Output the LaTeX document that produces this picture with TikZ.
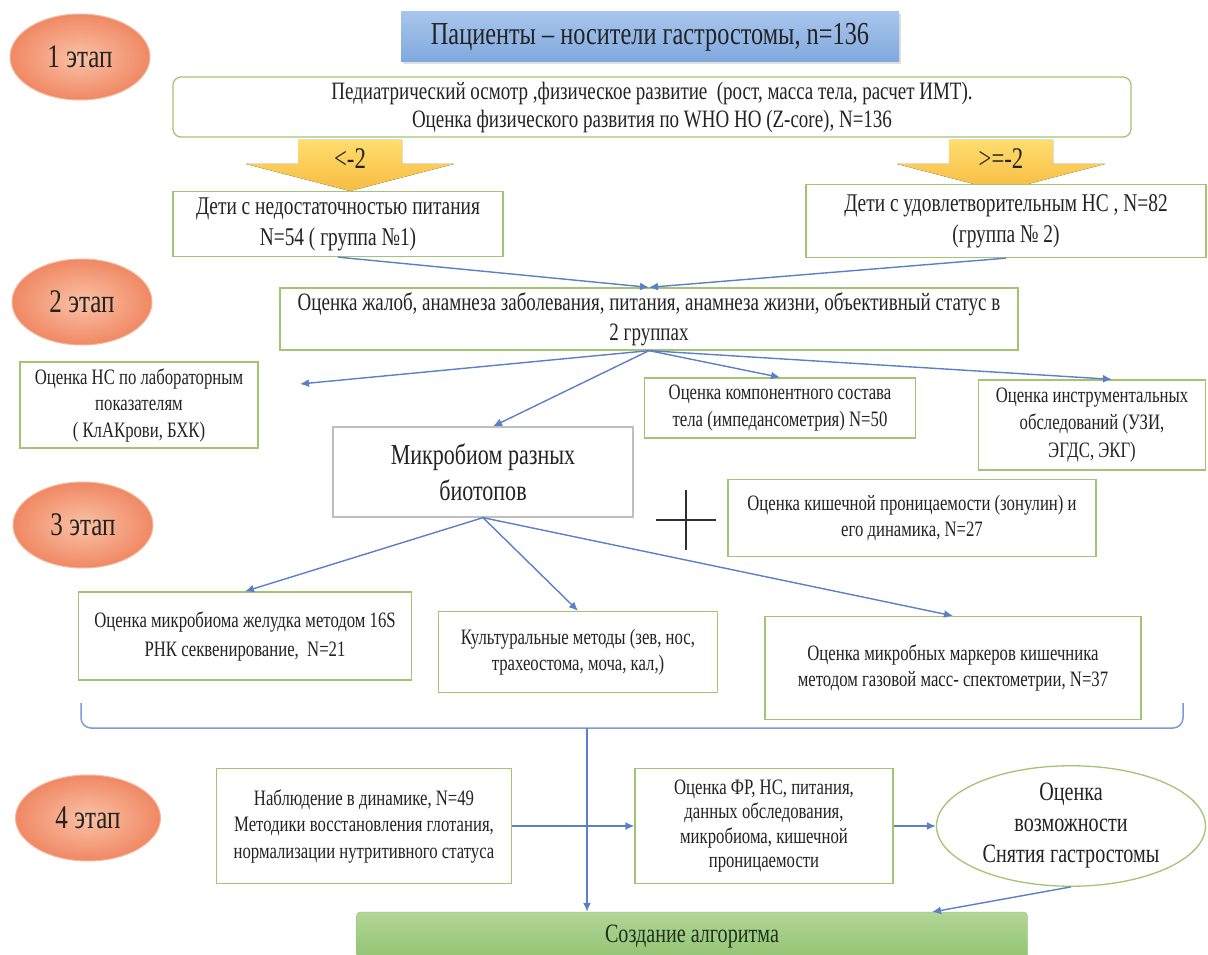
\documentclass[tikz,border=0pt]{standalone}
\usepackage{fontspec}
\setmainfont{Liberation Serif}[FakeStretch=0.76]
\usetikzlibrary{shapes.geometric}
\usetikzlibrary{arrows.meta}
\usetikzlibrary{shadows}

\definecolor{boxgreen}{RGB}{163,197,115}
\definecolor{boxgray}{RGB}{190,190,190}
\definecolor{crossdark}{RGB}{45,45,60}
\definecolor{linkblue}{RGB}{92,128,200}
\definecolor{bracketblue}{RGB}{125,155,212}
\definecolor{etapin}{RGB}{250,194,165}
\definecolor{etapout}{RGB}{240,136,100}
\definecolor{etapline}{RGB}{246,184,156}
\definecolor{titletop}{RGB}{168,198,236}
\definecolor{titlebot}{RGB}{128,168,222}
\definecolor{arrtop}{RGB}{255,221,110}
\definecolor{arrbot}{RGB}{247,188,66}
\definecolor{algotop}{RGB}{178,214,150}
\definecolor{algobot}{RGB}{144,194,112}
\definecolor{algotext}{RGB}{30,50,30}
\definecolor{txt}{RGB}{35,35,35}

\tikzset{
  etap/.style={ellipse, minimum width=140pt, minimum height=86pt, inner color=etapin,
    outer color=etapout, draw=etapline, line width=1pt, text=txt,
    font=\fontsize{33}{36}\selectfont},
  gbox/.style={draw=boxgreen, line width=1.3pt, fill=white, align=center,
    inner sep=0pt, text=txt},
  smalltxt/.style={font=\fontsize{22}{26.5}\selectfont},
  bigtxt/.style={font=\fontsize{26.5}{31}\selectfont},
  link/.style={draw=linkblue, line width=1.4pt, -{Latex[length=9pt,width=8pt]}},
}

\begin{document}
\begin{tikzpicture}[x=1pt,y=-1pt]
\path[use as bounding box, fill=white] (0,0) rectangle (1208,955);

% stages
\node[etap] (et1) at (80,57) {1 этап};
\node[etap] (et2) at (82,302) {2 этап};
\node[etap] (et3) at (83,525) {3 этап};
\node[etap, minimum width=145pt] (et4) at (88,818) {4 этап};

% stage 1
\node[top color=titletop, bottom color=titlebot, drop shadow={opacity=0.25},
  minimum width=498pt, minimum height=50pt, text=txt,
  font=\fontsize{32}{34}\selectfont] (title) at (650,37)
  {Пациенты – носители гастростомы, n=136};
\node[gbox, rounded corners=8pt, minimum width=958pt, minimum height=60pt,
  font=\fontsize{25}{28}\selectfont] (pedi) at (652,107)
  {Педиатрический осмотр ,физическое развитие \ (рост, масса тела, расчет ИМТ).\\
   Оценка физического развития по WHO НО (Z-core), N=136};

\foreach \cx/\lim in {350/{<-2}, 1001/{>=-2}} {
  \fill[top color=arrtop, bottom color=arrbot]
    (\cx-52,140) -- (\cx+52,140) -- (\cx+52,164) -- (\cx+104,164) -- (\cx,191)
    -- (\cx-104,164) -- (\cx-52,164) -- cycle;
  \node[text=txt, font=\fontsize{30}{32}\selectfont] (lim\cx) at (\cx,159) {\lim};
}

\node[gbox, font=\fontsize{25.5}{31}\selectfont, minimum width=330pt,
  minimum height=65pt] (lgrp) at (338,224)
  {Дети с недостаточностью питания\\ N=54 ( группа №1)};
\node[gbox, font=\fontsize{25.5}{31}\selectfont, minimum width=400pt,
  minimum height=73pt] (rgrp) at (1006,221)
  {Дети с удовлетворительным НС , N=82\\ (группа № 2)};

% stage 2
\node[gbox, font=\fontsize{25}{30}\selectfont, minimum width=738pt,
  minimum height=62pt] (ozh) at (649,319)
  {Оценка жалоб, анамнеза заболевания, питания, анамнеза жизни, объективный статус в\\
   2 группах};
\draw[link] (lgrp.south) -- (ozh.north);
\draw[link] (rgrp.south) -- (ozh.north);

\node[gbox, smalltxt, minimum width=238pt, minimum height=86pt] (ns) at (139,405)
  {Оценка НС по лабораторным\\ показателям\\ ( КлАКрови, БХК)};
\node[gbox, smalltxt, minimum width=271pt, minimum height=60pt] (comp) at (780,408)
  {Оценка компонентного состава\\ тела (импедансометрия) N=50};
\node[gbox, font=\fontsize{22}{27.5}\selectfont, minimum width=227pt,
  minimum height=90pt] (instr) at (1092,425)
  {Оценка инструментальных\\ обследований (УЗИ,\\ ЭГДС, ЭКГ)};
\node[draw=boxgray, line width=1.3pt, fill=white, align=center, text=txt,
  font=\fontsize{29}{36}\selectfont, minimum width=300pt, minimum height=90pt]
  (micro) at (483,472) {Микробиом разных\\ биотопов};

\coordinate (nsend) at (300,384);
\draw[link] (ozh.south) -- (nsend);
\draw[link] (ozh.south) -- ([xshift=10pt]micro.north);
\draw[link] (ozh.south) -- (comp.north);
\draw[link] (ozh.south) -- ([xshift=20pt]instr.north);

% stage 3
\draw[line width=1.5pt, crossdark] (656,520) -- (716,520) (686,490) -- (686,550);
\node[gbox, smalltxt, minimum width=368pt, minimum height=77pt] (perm) at (912,518)
  {Оценка кишечной проницаемости (зонулин) и\\ его динамика, N=27};

\node[gbox, font=\fontsize{22}{29}\selectfont, minimum width=333pt,
  minimum height=88pt] (s16) at (245,636)
  {Оценка микробиома желудка методом 16S\\ РНК секвенирование, \ N=21};
\node[gbox, smalltxt, minimum width=279pt, minimum height=81pt] (cult) at (578,652)
  {Культуральные методы (зев, нос,\\ трахеостома, моча, кал,)};
\node[gbox, smalltxt, minimum width=376pt, minimum height=103pt] (gas) at (953,668)
  {Оценка микробных маркеров кишечника\\ методом газовой масс- спектометрии, N=37};

\draw[link] (micro.south) -- (s16.north);
\draw[link] (micro.south) -- (cult.north);
\draw[link] (micro.south) -- (gas.north);

\coordinate (brL) at (81,703);
\coordinate (brR) at (1183,703);
\coordinate (brM) at (587,728);
\draw[bracketblue, line width=1.5pt, rounded corners=10pt]
  (brL) -- (81,728) -- (1183,728) -- (brR);

% stage 4
\node[gbox, smalltxt, minimum width=295pt, minimum height=115pt] (obs) at (364,826)
  {Наблюдение в динамике, N=49\\ Методики восстановления глотания,\\
   нормализации нутритивного статуса};
\node[gbox, font=\fontsize{22}{24.5}\selectfont, minimum width=258pt,
  minimum height=115pt] (fr) at (764,826)
  {Оценка ФР, НС, питания,\\ данных обследования,\\ микробиома, кишечной\\ проницаемости};
\node[ellipse, draw=boxgreen, line width=1.3pt, fill=white, align=center, text=txt,
  bigtxt, inner sep=0pt, minimum width=269pt, minimum height=115pt] (poss) at (1071,826)
  {Оценка\\ возможности\\ Снятия гастростомы};
\node[top color=algotop, bottom color=algobot, draw=algobot, rounded corners=4pt,
  text=algotext, bigtxt, minimum width=671pt, minimum height=50pt]
  (algo) at (692,937) {Создание алгоритма};

\draw[link] (obs.east) -- (fr.west);
\draw[link] (fr.east) -- (poss.west);
\coordinate (algoin) at (932,912);
\draw[link] (poss.south) -- (algoin);
\draw[link] (brM) -- (brM |- algo.north);
\end{tikzpicture}
\end{document}
